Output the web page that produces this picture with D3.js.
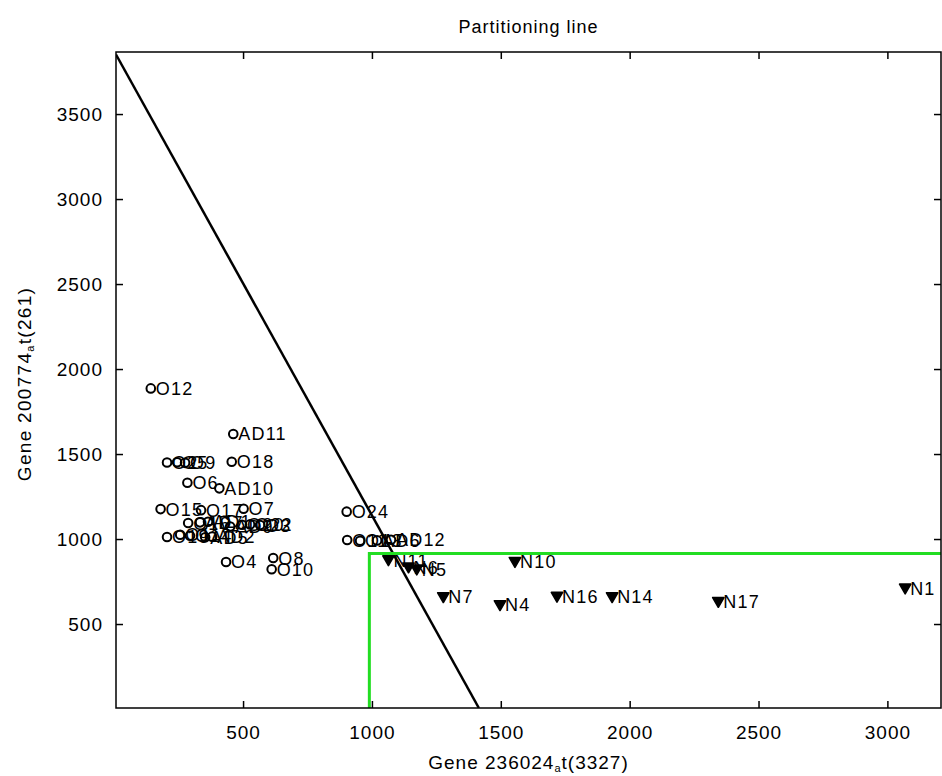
<!DOCTYPE html>
<html>
<head>
<meta charset="utf-8">
<script src="https://cdn.jsdelivr.net/npm/d3@7"></script>
<style>
  body { margin: 0; background: #fff; }
  text { font-family: "Liberation Sans", Arial, sans-serif; fill: #000; }
</style>
</head>
<body>
<svg id="chart" width="942" height="776"></svg>
<script>
// ---- data ----
const xTicks = [500, 1000, 1500, 2000, 2500, 3000];
const yTicks = [500, 1000, 1500, 2000, 2500, 3000, 3500];

// samples drawn with open circles (O / AD groups)
const circleLabels = ["O12", "AD11", "O18", "O2", "O5", "O9", "O6", "AD10", "O15", "O17", "O7", "O24",
  "O16", "AD7", "AD1", "AD9", "O20", "O22", "O3",
  "O19", "O1", "O14", "AD5", "AD2",
  "O4", "O8", "O10",
  "O11", "O13", "AD6", "AD12"];
const circleX = [142, 462, 456, 205, 244, 275, 284, 408, 180, 337, 502, 902,
  287, 333, 364, 450, 496, 527, 566,
  205, 256, 294, 353, 380,
  434, 617, 611,
  904, 954, 1020, 1074];
const circleY = [1886, 1618, 1455, 1450, 1452, 1448, 1331, 1298, 1176, 1170, 1178, 1161,
  1094, 1098, 1102, 1074, 1084, 1086, 1082,
  1012, 1025, 1019, 1010, 1014,
  865, 888, 822,
  994, 990, 992, 996];

// samples drawn with down-pointing triangles (N group)
const triLabels = ["N11", "N6", "N5", "N10", "N7", "N4", "N16", "N14", "N17", "N1"];
const triX = [1064, 1142, 1174, 1555, 1277, 1497, 1718, 1932, 2344, 3069];
const triY = [876, 834, 822, 866, 659, 612, 661, 659, 631, 710];

// partitioning line and the green boundary
const lineX = [7, 1415];
const lineY = [3850, 6];
const boundX = [990, 990, 3208];
const boundY = [6, 915, 915];

const xDomain = [7, 3208];
const yDomain = [6, 3865];

// ---- layout ----
const svg = d3.select("#chart");
const L = 116, R = 941, T = 52, B = 708;
const x = d3.scaleLinear().domain(xDomain).range([L, R]);
const y = d3.scaleLinear().domain(yDomain).range([B, T]);

svg.append("rect").attr("width", 942).attr("height", 776).attr("fill", "#fff");

svg.append("defs").append("clipPath").attr("id", "plot")
  .append("rect").attr("x", L).attr("y", T).attr("width", R - L).attr("height", B - T);

const fontSize = 19;

function styleAxis(g) {
  g.select(".domain").remove();
  g.selectAll(".tick line").attr("stroke", "#000").attr("stroke-width", 1.5);
  g.selectAll(".tick text").attr("font-size", fontSize).attr("letter-spacing", 1)
    .attr("font-family", "Liberation Sans, Arial, sans-serif").attr("fill", "#222");
}

svg.append("g").attr("transform", `translate(0,${B})`)
  .call(d3.axisBottom(x).tickValues(xTicks).tickSizeInner(-7).tickSizeOuter(0).tickPadding(18).tickFormat(d3.format("d")))
  .call(styleAxis);
svg.append("g").attr("transform", `translate(0,${T})`)
  .call(d3.axisTop(x).tickValues(xTicks).tickSizeInner(-7).tickSizeOuter(0).tickFormat(""))
  .call(styleAxis);
svg.append("g").attr("transform", `translate(${L},0)`)
  .call(d3.axisLeft(y).tickValues(yTicks).tickSizeInner(-7).tickSizeOuter(0).tickPadding(13).tickFormat(d3.format("d")))
  .call(styleAxis);
svg.append("g").attr("transform", `translate(${R},0)`)
  .call(d3.axisRight(y).tickValues(yTicks).tickSizeInner(-7).tickSizeOuter(0).tickFormat(""))
  .call(styleAxis);

// ---- markers and labels ----
const plot = svg.append("g").attr("clip-path", "url(#plot)");

const circles = circleLabels.map((lab, i) => ({ lab, vx: circleX[i], vy: circleY[i] }));
const tris = triLabels.map((lab, i) => ({ lab, vx: triX[i], vy: triY[i] }));

plot.selectAll("circle.pt").data(circles).enter().append("circle")
  .attr("class", "pt")
  .attr("cx", d => x(d.vx)).attr("cy", d => y(d.vy)).attr("r", 4.3)
  .attr("fill", "none").attr("stroke", "#000").attr("stroke-width", 2);

const triSym = d3.symbol().type(d3.symbolTriangle).size(55);
plot.selectAll("path.tri").data(tris).enter().append("path")
  .attr("class", "tri")
  .attr("d", triSym)
  .attr("transform", d => `translate(${x(d.vx)},${y(d.vy) - 1}) rotate(180)`)
  .attr("fill", "#000").attr("stroke", "#000").attr("stroke-width", 1.6).attr("stroke-linejoin", "round");

plot.selectAll("text.lab").data(circles.concat(tris)).enter().append("text")
  .attr("class", "lab")
  .attr("x", d => x(d.vx) + 5).attr("y", d => y(d.vy))
  .attr("dy", "0.36em")
  .attr("font-size", 18).attr("letter-spacing", 1.2)
  .text(d => d.lab);

// ---- partitioning line ----
const lineData = lineX.map((v, i) => [v, lineY[i]]);
plot.append("path")
  .attr("d", d3.line().x(d => x(d[0])).y(d => y(d[1]))(lineData))
  .attr("fill", "none").attr("stroke", "#000").attr("stroke-width", 2.5);

// ---- green boundary ----
const boundData = boundX.map((v, i) => [v, boundY[i]]);
plot.append("path")
  .attr("d", d3.line().x(d => x(d[0])).y(d => y(d[1]))(boundData))
  .attr("fill", "none").attr("stroke", "#22dd22").attr("stroke-width", 3);

// ---- box ----
svg.append("rect").attr("x", L).attr("y", T).attr("width", R - L).attr("height", B - T)
  .attr("fill", "none").attr("stroke", "#000").attr("stroke-width", 1.5);

// ---- titles ----
svg.append("text").attr("x", (L + R) / 2).attr("y", 33).attr("text-anchor", "middle")
  .attr("font-size", 18).attr("letter-spacing", 1).text("Partitioning line");

const xl = svg.append("text").attr("x", (L + R) / 2).attr("y", 769).attr("text-anchor", "middle")
  .attr("font-size", fontSize).attr("letter-spacing", 1);
xl.append("tspan").text("Gene 236024");
xl.append("tspan").attr("font-size", 11).attr("dy", 3).text("a");
xl.append("tspan").attr("dy", -3).text("t(3327)");

const yl = svg.append("text").attr("transform", `translate(31,${(T + B) / 2 + 4}) rotate(-90)`)
  .attr("text-anchor", "middle").attr("font-size", fontSize).attr("letter-spacing", 1.3);
yl.append("tspan").text("Gene 200774");
yl.append("tspan").attr("font-size", 11).attr("dy", 3).text("a");
yl.append("tspan").attr("dy", -3).text("t(261)");
</script>
</body>
</html>
